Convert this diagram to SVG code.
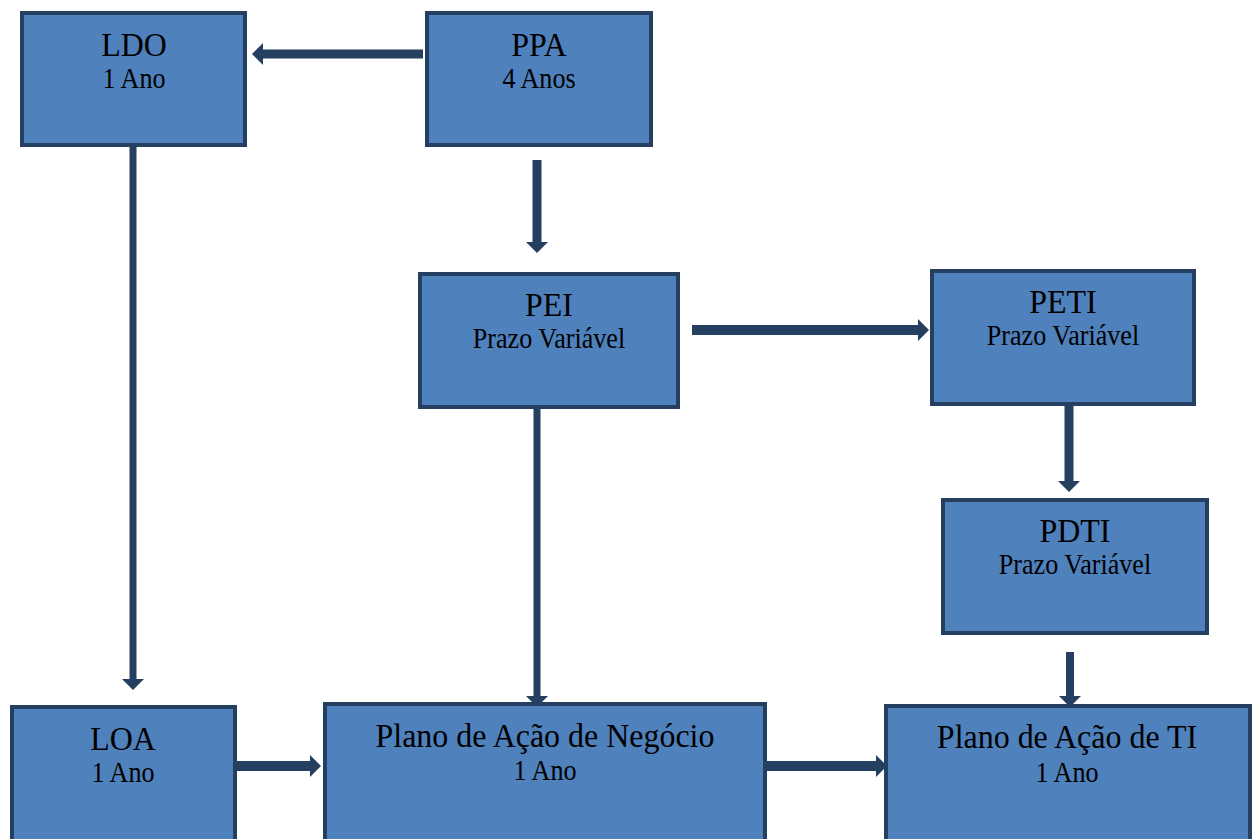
<svg xmlns="http://www.w3.org/2000/svg" width="1255" height="839" viewBox="0 0 1255 839">
<style>
.box{fill:#4F81BD;stroke:#243F60;stroke-width:4}
.t{font-family:"Liberation Serif","Times New Roman",serif;fill:#000;text-anchor:middle}
.t1{font-size:34px}
.t2{font-size:29px}
.c{stroke:#243F60;fill:none;marker-end:url(#ah)}
</style>
<defs>
<marker id="ah" markerUnits="userSpaceOnUse" markerWidth="11" markerHeight="22" viewBox="0 0 11 22" refX="3" refY="11" orient="auto">
<path d="M0,0 L11,11 L0,22 z" fill="#243F60"/>
</marker>
</defs>
<rect width="1255" height="839" fill="#fff"/>
<g id="connectors">
<line class="c" x1="423" y1="54" x2="260" y2="54" stroke-width="9"/>
<line class="c" x1="537" y1="160" x2="537" y2="245" stroke-width="9"/>
<line class="c" x1="133" y1="147" x2="133" y2="682" stroke-width="7"/>
<line class="c" x1="537" y1="403" x2="537" y2="699" stroke-width="7"/>
<line class="c" x1="692" y1="330" x2="921" y2="330" stroke-width="10"/>
<line class="c" x1="1069" y1="406" x2="1069" y2="484" stroke-width="9"/>
<line class="c" x1="1070" y1="652" x2="1070" y2="699" stroke-width="8"/>
<line class="c" x1="237" y1="766" x2="313" y2="766" stroke-width="10"/>
<line class="c" x1="767" y1="766" x2="879" y2="766" stroke-width="10"/>
</g>
<g id="LDO">
<rect class="box" x="22" y="13" width="223" height="132"/>
<text class="t t1" transform="translate(134,56) scale(0.94,1)">LDO</text>
<text class="t t2" transform="translate(134,88) scale(0.9,1)">1 Ano</text>
</g>
<g id="PPA">
<rect class="box" x="427" y="13" width="224" height="132"/>
<text class="t t1" transform="translate(539,56) scale(0.94,1)">PPA</text>
<text class="t t2" transform="translate(539,88) scale(0.9,1)">4 Anos</text>
</g>
<g id="PEI">
<rect class="box" x="420" y="274" width="258" height="133"/>
<text class="t t1" transform="translate(549,316) scale(0.94,1)">PEI</text>
<text class="t t2" transform="translate(549,348) scale(0.9,1)">Prazo Variável</text>
</g>
<g id="PETI">
<rect class="box" x="932" y="271" width="262" height="133"/>
<text class="t t1" transform="translate(1063,313) scale(0.94,1)">PETI</text>
<text class="t t2" transform="translate(1063,345) scale(0.9,1)">Prazo Variável</text>
</g>
<g id="PDTI">
<rect class="box" x="943" y="500" width="264" height="133"/>
<text class="t t1" transform="translate(1075,542) scale(0.94,1)">PDTI</text>
<text class="t t2" transform="translate(1075,574) scale(0.9,1)">Prazo Variável</text>
</g>
<g id="LOA">
<rect class="box" x="12" y="707" width="223" height="140"/>
<text class="t t1" transform="translate(123,750) scale(0.94,1)">LOA</text>
<text class="t t2" transform="translate(123,782) scale(0.9,1)">1 Ano</text>
</g>
<g id="PlanoNegocio">
<rect class="box" x="325" y="704" width="440" height="145"/>
<text class="t t1" transform="translate(545,747) scale(0.94,1)">Plano de Ação de Negócio</text>
<text class="t t2" transform="translate(545,780) scale(0.9,1)">1 Ano</text>
</g>
<g id="PlanoTI">
<rect class="box" x="886" y="706" width="364" height="145"/>
<text class="t t1" transform="translate(1067,748) scale(0.94,1)">Plano de Ação de TI</text>
<text class="t t2" transform="translate(1067,782) scale(0.9,1)">1 Ano</text>
</g>
</svg>
